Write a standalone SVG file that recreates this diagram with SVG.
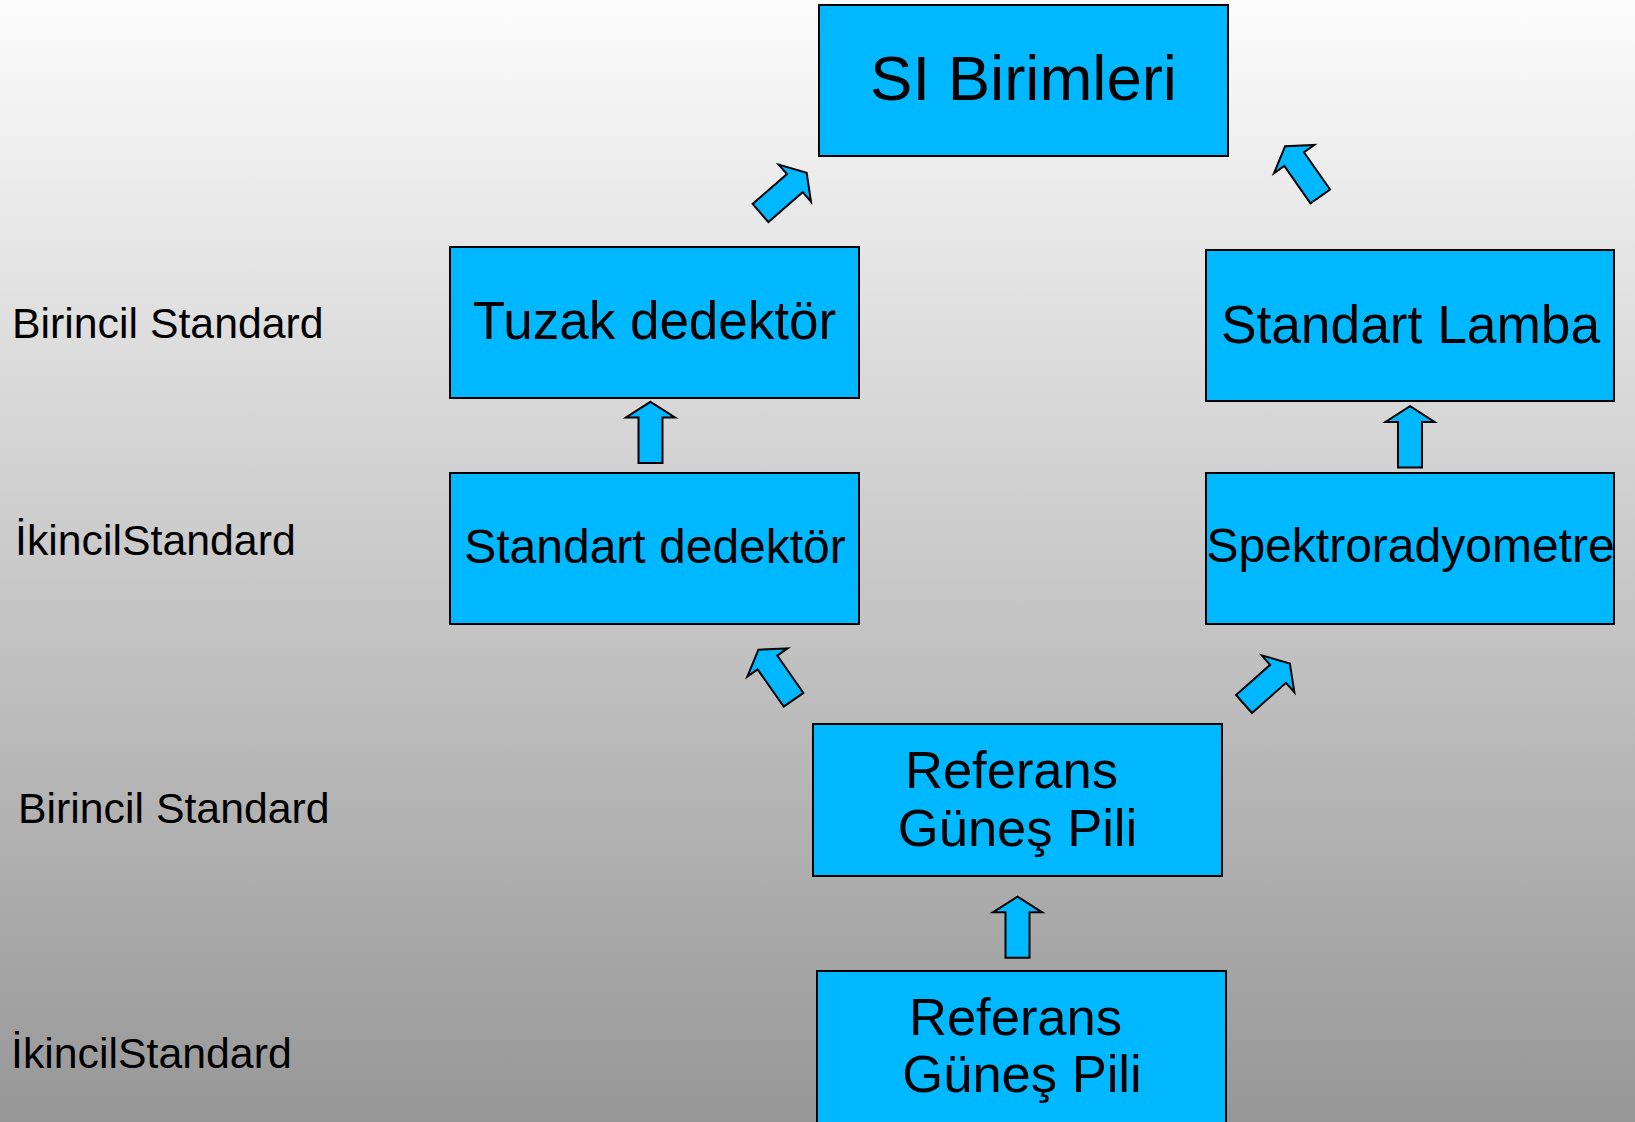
<svg xmlns="http://www.w3.org/2000/svg" width="1635" height="1122" viewBox="0 0 1635 1122">
<defs>
<linearGradient id="bg" x1="0" y1="0" x2="0" y2="1">
<stop offset="0" stop-color="#fcfcfc"/>
<stop offset="1" stop-color="#979797"/>
</linearGradient>
<path id="arr" d="M0,-30.6 L24.6,-14.9 L12,-14.9 L12,30.6 L-12,30.6 L-12,-14.9 L-24.6,-14.9 Z"/>
<style>
.box{fill:#00b8ff;stroke:#000;stroke-width:2}
.t{font-family:"Liberation Sans",Arial,sans-serif;fill:#000;text-anchor:middle}
.lbl{font-family:"Liberation Sans",Arial,sans-serif;fill:#000;font-size:42.8px}
.a{fill:#00b8ff;stroke:#000;stroke-width:2;stroke-linejoin:miter}
</style>
</defs>
<rect width="1635" height="1122" fill="url(#bg)"/>

<g id="labels">
<text class="lbl" x="12" y="338">Birincil Standard</text>
<text class="lbl" x="15" y="555">İkincilStandard</text>
<text class="lbl" x="18" y="823">Birincil Standard</text>
<text class="lbl" x="11" y="1068">İkincilStandard</text>
</g>

<g id="connectors">
<use href="#arr" class="a" transform="translate(783.6,192.9) rotate(49)"/>
<use href="#arr" class="a" transform="translate(1302.7,171.3) rotate(-35)"/>
<use href="#arr" class="a" transform="translate(650.5,432.4)"/>
<use href="#arr" class="a" transform="translate(1410,436.8)"/>
<use href="#arr" class="a" transform="translate(776,674.7) rotate(-35)"/>
<use href="#arr" class="a" transform="translate(1266.9,683.7) rotate(48.5)"/>
<use href="#arr" class="a" transform="translate(1017.5,927.2)"/>
</g>

<g id="si">
<rect class="box" x="819" y="5" width="409" height="151"/>
<text class="t" x="1023.5" y="100" font-size="63.5">SI Birimleri</text>
</g>
<g id="tuzak">
<rect class="box" x="450" y="247" width="409" height="151"/>
<text class="t" x="654.5" y="339" font-size="53">Tuzak dedektör</text>
</g>
<g id="lamba">
<rect class="box" x="1206" y="250" width="408" height="151"/>
<text class="t" x="1410.5" y="343" font-size="53.3">Standart Lamba</text>
</g>
<g id="stddedektor">
<rect class="box" x="450" y="473" width="409" height="151"/>
<text class="t" x="655" y="563" font-size="48">Standart dedektör</text>
</g>
<g id="spektro">
<rect class="box" x="1206" y="473" width="408" height="151"/>
<text class="t" x="1410.5" y="562" font-size="48">Spektroradyometre</text>
</g>
<g id="ref1">
<rect class="box" x="813" y="724" width="409" height="152"/>
<text class="t" x="1011.5" y="788" font-size="52.5">Referans</text>
<text class="t" x="1017.5" y="846" font-size="52.5">Güneş Pili</text>
</g>
<g id="ref2">
<rect class="box" x="817" y="971" width="409" height="160"/>
<text class="t" x="1015.5" y="1035" font-size="52.5">Referans</text>
<text class="t" x="1022" y="1092" font-size="52.5">Güneş Pili</text>
</g>
</svg>
